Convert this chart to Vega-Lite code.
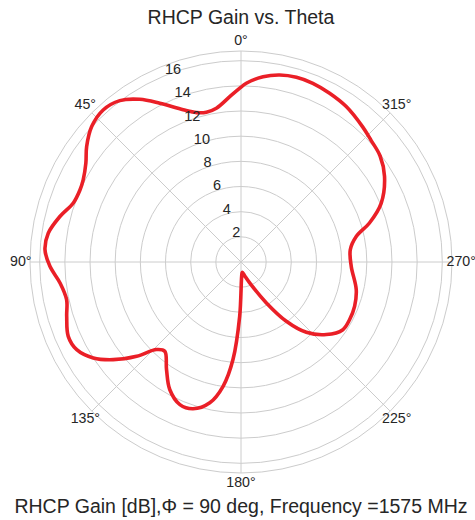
{
  "$schema": "https://vega.github.io/schema/vega-lite/v6.json",
  "width": 422,
  "height": 422,
  "autosize": {"type": "none"},
  "padding": {"left": 30, "top": 51, "right": 23, "bottom": 47},
  "background": "white",
  "config": {"view": {"stroke": null}, "font": "Liberation Sans"},
  "title": {"text": "RHCP Gain vs. Theta", "fontSize": 19.5, "font": "Liberation Sans", "fontWeight": "normal", "color": "#262626", "offset": 5, "anchor": "middle"},
  "datasets": {
    "rings": [{"r": 2}, {"r": 4}, {"r": 6}, {"r": 8}, {"r": 10}, {"r": 12}, {"r": 14}, {"r": 16}, {"r": 16.77}],
    "rticks": [{"r": 2}, {"r": 4}, {"r": 6}, {"r": 8}, {"r": 10}, {"r": 12}, {"r": 14}, {"r": 16}],
    "aticks": [
      {"a": 0, "label": "0°"}, {"a": 45, "label": "45°"}, {"a": 90, "label": "90°"}, {"a": 135, "label": "135°"},
      {"a": 180, "label": "180°"}, {"a": 225, "label": "225°"}, {"a": 270, "label": "270°"}, {"a": 315, "label": "315°"}
    ],
    "caption": [{"text": "RHCP Gain [dB],Φ = 90 deg, Frequency =1575 MHz", "x": 0, "y": -19.45}],
    "gain": [
      {"theta": 0, "r": 13.89}, {"theta": 3.9, "r": 13.17}, {"theta": 9.1, "r": 12.38}, {"theta": 13.0, "r": 12.22},
      {"theta": 16.6, "r": 12.39}, {"theta": 20.8, "r": 12.94}, {"theta": 27.1, "r": 14.17}, {"theta": 31.9, "r": 15.23},
      {"theta": 36.9, "r": 16.04}, {"theta": 42.2, "r": 16.31}, {"theta": 47.8, "r": 16.02}, {"theta": 53.2, "r": 15.32},
      {"theta": 57.5, "r": 14.62}, {"theta": 62.5, "r": 14.14}, {"theta": 66.0, "r": 14.02}, {"theta": 70.6, "r": 14.13},
      {"theta": 75.9, "r": 14.84}, {"theta": 81.5, "r": 15.49}, {"theta": 86.4, "r": 15.61}, {"theta": 91.3, "r": 15.19},
      {"theta": 96.6, "r": 14.48}, {"theta": 102.2, "r": 14.18}, {"theta": 107.3, "r": 14.51}, {"theta": 113.3, "r": 14.95},
      {"theta": 118.1, "r": 14.8}, {"theta": 123.0, "r": 14.0}, {"theta": 127.4, "r": 12.78}, {"theta": 132.1, "r": 11.18},
      {"theta": 136.0, "r": 9.67}, {"theta": 139.5, "r": 9.33}, {"theta": 145.3, "r": 10.4}, {"theta": 150.8, "r": 11.61},
      {"theta": 156.8, "r": 12.33}, {"theta": 161.9, "r": 12.27}, {"theta": 167.5, "r": 11.46}, {"theta": 171.8, "r": 9.98},
      {"theta": 175.3, "r": 7.78}, {"theta": 178.6, "r": 4.32}, {"theta": 185.2, "r": 0.88}, {"theta": 187.7, "r": 0.83},
      {"theta": 195.1, "r": 1.15}, {"theta": 202.5, "r": 1.8}, {"theta": 211.8, "r": 3.83}, {"theta": 217.4, "r": 5.93},
      {"theta": 222.9, "r": 7.63}, {"theta": 229.6, "r": 8.9}, {"theta": 236.4, "r": 9.72}, {"theta": 242.0, "r": 9.77},
      {"theta": 248.7, "r": 9.69}, {"theta": 256.5, "r": 9.42}, {"theta": 267.7, "r": 8.77}, {"theta": 276.4, "r": 8.74},
      {"theta": 282.5, "r": 9.38}, {"theta": 286.9, "r": 10.67}, {"theta": 292.8, "r": 12.09}, {"theta": 300.8, "r": 13.28},
      {"theta": 307.3, "r": 13.9}, {"theta": 313.0, "r": 14.15}, {"theta": 318.0, "r": 14.45}, {"theta": 325.9, "r": 14.92},
      {"theta": 332.3, "r": 15.15}, {"theta": 338.1, "r": 15.31}, {"theta": 343.3, "r": 15.33}, {"theta": 348.3, "r": 15.18},
      {"theta": 353.2, "r": 14.83}, {"theta": 358.3, "r": 14.21}, {"theta": 360, "r": 13.89}
    ]
  },
  "layer": [
    {
      "data": {"name": "rings"},
      "transform": [
        {"calculate": "0", "as": "cx"},
        {"calculate": "0", "as": "cy"}
      ],
      "mark": {"type": "point", "shape": "circle", "filled": false, "stroke": "#cccccc", "strokeWidth": 1, "opacity": 1},
      "encoding": {
        "x": {"field": "cx", "type": "quantitative", "scale": {"domain": [-16.77, 16.77], "nice": false, "zero": false}, "axis": null},
        "y": {"field": "cy", "type": "quantitative", "scale": {"domain": [-16.77, 16.77], "nice": false, "zero": false}, "axis": null},
        "size": {"field": "r", "type": "quantitative", "scale": {"type": "pow", "exponent": 2, "domain": [0, 16.77], "range": [0, 178084], "zero": true, "nice": false}, "legend": null}
      }
    },
    {
      "data": {"name": "aticks"},
      "transform": [
        {"calculate": "0", "as": "cx"},
        {"calculate": "0", "as": "cy"},
        {"calculate": "-16.77*sin(datum.a*PI/180)", "as": "ex"},
        {"calculate": "16.77*cos(datum.a*PI/180)", "as": "ey"}
      ],
      "mark": {"type": "rule", "stroke": "#cccccc", "strokeWidth": 1},
      "encoding": {
        "x": {"field": "cx", "type": "quantitative", "scale": {"domain": [-16.77, 16.77], "nice": false, "zero": false}, "axis": null},
        "y": {"field": "cy", "type": "quantitative", "scale": {"domain": [-16.77, 16.77], "nice": false, "zero": false}, "axis": null},
        "x2": {"field": "ex"},
        "y2": {"field": "ey"}
      }
    },
    {
      "data": {"name": "gain"},
      "transform": [
        {"calculate": "-datum.r*sin(datum.theta*PI/180)", "as": "x"},
        {"calculate": "datum.r*cos(datum.theta*PI/180)", "as": "y"}
      ],
      "mark": {"type": "line", "color": "#ea1f27", "strokeWidth": 3.6, "interpolate": "catmull-rom", "strokeJoin": "round", "strokeCap": "round"},
      "encoding": {
        "x": {"field": "x", "type": "quantitative", "scale": {"domain": [-16.77, 16.77], "nice": false, "zero": false}, "axis": null},
        "y": {"field": "y", "type": "quantitative", "scale": {"domain": [-16.77, 16.77], "nice": false, "zero": false}, "axis": null},
        "order": {"field": "theta", "type": "quantitative"}
      }
    },
    {
      "data": {"name": "rticks"},
      "transform": [
        {"calculate": "-datum.r*sin(22.5*PI/180)", "as": "x"},
        {"calculate": "datum.r*cos(22.5*PI/180)", "as": "y"}
      ],
      "mark": {"type": "text", "align": "left", "baseline": "alphabetic", "dx": 1, "dy": -2, "fontSize": 14.5, "color": "#262626", "font": "Liberation Sans"},
      "encoding": {
        "x": {"field": "x", "type": "quantitative", "scale": {"domain": [-16.77, 16.77], "nice": false, "zero": false}, "axis": null},
        "y": {"field": "y", "type": "quantitative", "scale": {"domain": [-16.77, 16.77], "nice": false, "zero": false}, "axis": null},
        "text": {"field": "r", "type": "quantitative"}
      }
    },
    {
      "data": {"name": "aticks"},
      "transform": [
        {"calculate": "-17.5*sin(datum.a*PI/180)", "as": "x"},
        {"calculate": "17.6*cos(datum.a*PI/180)", "as": "y"}
      ],
      "mark": {"type": "text", "align": "center", "baseline": "middle", "fontSize": 14.2, "color": "#262626", "font": "Liberation Sans"},
      "encoding": {
        "x": {"field": "x", "type": "quantitative", "scale": {"domain": [-16.77, 16.77], "nice": false, "zero": false}, "axis": null},
        "y": {"field": "y", "type": "quantitative", "scale": {"domain": [-16.77, 16.77], "nice": false, "zero": false}, "axis": null},
        "text": {"field": "label", "type": "nominal"}
      }
    },
    {
      "data": {"name": "caption"},
      "mark": {"type": "text", "align": "center", "baseline": "middle", "fontSize": 19.5, "color": "#262626", "font": "Liberation Sans"},
      "encoding": {
        "x": {"field": "x", "type": "quantitative", "scale": {"domain": [-16.77, 16.77], "nice": false, "zero": false}, "axis": null},
        "y": {"field": "y", "type": "quantitative", "scale": {"domain": [-16.77, 16.77], "nice": false, "zero": false}, "axis": null},
        "text": {"field": "text", "type": "nominal"}
      }
    }
  ]
}
